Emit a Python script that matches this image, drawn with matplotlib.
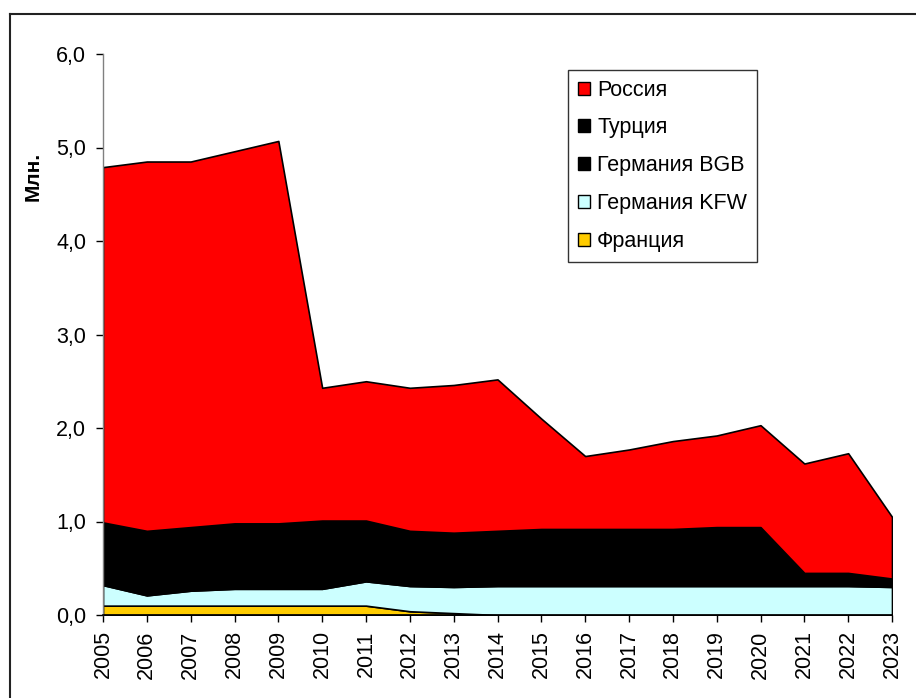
import matplotlib
matplotlib.use("Agg")
import matplotlib.pyplot as plt
from matplotlib.lines import Line2D
from matplotlib.patches import Patch
import numpy as np

plt.rcParams['font.family'] = ['Liberation Sans', 'DejaVu Sans']

years = list(range(2005, 2024))
# layer values (Млн.)
france = [0.10, 0.10, 0.10, 0.10, 0.10, 0.10, 0.10, 0.04, 0.02, 0.00,
          0.00, 0.00, 0.00, 0.00, 0.00, 0.00, 0.00, 0.00, 0.00]
germany_kfw = [0.22, 0.11, 0.16, 0.18, 0.18, 0.18, 0.26, 0.27, 0.28, 0.31,
               0.31, 0.31, 0.31, 0.31, 0.31, 0.31, 0.31, 0.31, 0.30]
germany_bgb = [0.14, 0.18, 0.17, 0.17, 0.16, 0.16, 0.15, 0.14, 0.14, 0.14,
               0.14, 0.14, 0.14, 0.14, 0.14, 0.14, 0.14, 0.14, 0.09]
turkey = [0.53, 0.51, 0.51, 0.53, 0.54, 0.57, 0.50, 0.45, 0.44, 0.45,
          0.47, 0.47, 0.47, 0.47, 0.49, 0.49, 0.00, 0.00, 0.00]
russia = [3.80, 3.95, 3.91, 3.98, 4.09, 1.42, 1.49, 1.53, 1.58, 1.62,
          1.18, 0.78, 0.85, 0.94, 0.98, 1.09, 1.17, 1.28, 0.66]

labels = ["Франция", "Германия KFW", "Германия BGB", "Турция", "Россия"]
colors = ["#FFCC00", "#CCFFFF", "#000000", "#000000", "#FF0000"]

fig = plt.figure(figsize=(9.16, 6.98), dpi=100)
ax = fig.add_axes([103/916, 1-615/698, (892-103)/916, (615-54)/698])

ax.stackplot(years, france, germany_kfw, germany_bgb, turkey, russia,
             colors=colors, edgecolor="black", linewidth=1.2)

ax.set_xlim(2005, 2023)
ax.set_ylim(0, 6)
ax.set_yticks(np.arange(0, 6.01, 1.0))
ax.set_yticklabels([f"{v:.1f}".replace(".", ",") for v in np.arange(0, 6.01, 1.0)], fontsize=15.5)
ax.set_xticks(years)
ax.set_xticklabels([str(y) for y in years], rotation=90, fontsize=15.5)
ax.tick_params(axis="both", direction="out", length=5, width=1, color="black")
ax.tick_params(axis="x", pad=6)
ax.tick_params(axis="y", pad=7)

for s in ["top", "right"]:
    ax.spines[s].set_visible(False)
ax.spines["left"].set_color("#808080")
ax.spines["left"].set_linewidth(1)
ax.spines["bottom"].set_color("black")
ax.spines["bottom"].set_linewidth(1.2)

ax.set_ylabel("Млн.", fontsize=15, fontweight="bold")
ax.yaxis.set_label_coords((43-103)/789, (615-176)/561)

handles = [Patch(facecolor=colors[4], edgecolor="black", label="Россия"),
           Patch(facecolor=colors[3], edgecolor="black", label="Турция"),
           Patch(facecolor=colors[2], edgecolor="black", label="Германия BGB"),
           Patch(facecolor=colors[1], edgecolor="black", label="Германия KFW"),
           Patch(facecolor=colors[0], edgecolor="black", label="Франция")]
leg = ax.legend(handles=handles, loc="upper left",
                bbox_to_anchor=((568-103)/789, 1-(70-54)/561),
                fontsize=15.5, frameon=True, fancybox=False,
                handlelength=0.55, handleheight=0.55, handletextpad=0.35,
                labelspacing=0.78, borderpad=0.45, borderaxespad=0)
leg.get_frame().set_edgecolor("black")
leg.get_frame().set_linewidth(1)

# outer chart frame (left & top edges visible)
fig.add_artist(Line2D([10/916, 10/916], [0, 1-14/698], color="#222222", lw=1.5, transform=fig.transFigure))
fig.add_artist(Line2D([10/916, 1], [1-14/698, 1-14/698], color="#222222", lw=1.5, transform=fig.transFigure))

fig.savefig("out.png", dpi=100)
